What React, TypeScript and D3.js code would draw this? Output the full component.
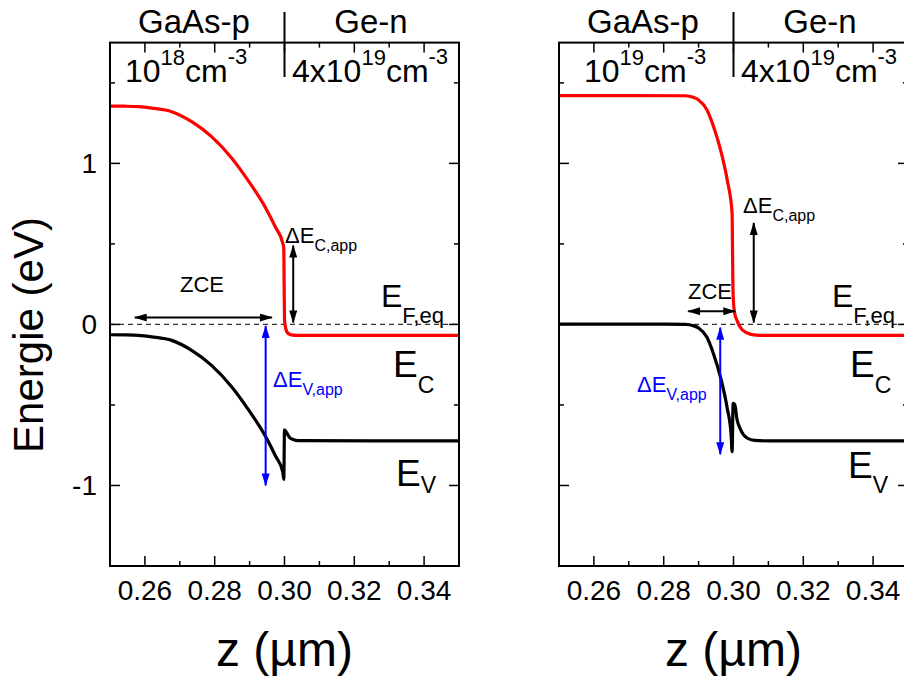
import React from 'react';
import * as d3 from 'd3';

// ---------- data ----------
const xMajorTicks = [0.26, 0.28, 0.3, 0.32, 0.34];
const xMinorTicks = [0.25, 0.27, 0.29, 0.31, 0.33, 0.35];
const yMajorTicks = [-1, 0, 1];
const yMinorTicks = [-1.5, -0.5, 0.5, 1.5];

// left panel: GaAs-p 1e18 / Ge-n 4e19
const leftEc: [number, number][] = [
  [0.25, 1.356], [0.254, 1.355], [0.2581, 1.352], [0.262, 1.343], [0.2677, 1.321],
  [0.2734, 1.259], [0.2791, 1.166], [0.2849, 1.032], [0.2896, 0.893], [0.2944, 0.731],
  [0.2975, 0.6], [0.2995, 0.505], [0.2998, 0.47], [0.2999, 0.25], [0.3, 0.03],
  [0.3004, -0.03], [0.301, -0.055], [0.302, -0.065], [0.3035, -0.068], [0.35, -0.068],
];
const leftEv: [number, number][] = [
  [0.25, -0.064], [0.254, -0.065], [0.2581, -0.068], [0.262, -0.077], [0.2677, -0.099],
  [0.2734, -0.161], [0.2791, -0.254], [0.2849, -0.388], [0.2896, -0.527], [0.2944, -0.689],
  [0.2975, -0.82], [0.2995, -0.915], [0.2998, -0.962], [0.3, -0.655], [0.3006, -0.672],
  [0.3014, -0.7], [0.3025, -0.715], [0.304, -0.722], [0.35, -0.723],
];

// right panel: GaAs-p 1e19 / Ge-n 4e19
const rightEc: [number, number][] = [
  [0.25, 1.421], [0.27, 1.421], [0.2862, 1.42], [0.2885, 1.41], [0.29, 1.394],
  [0.2924, 1.332], [0.2943, 1.228], [0.2963, 1.083], [0.2982, 0.897], [0.2996, 0.69],
  [0.2997, 0.5], [0.2998, 0.3], [0.2999, 0.18], [0.3003, 0.072], [0.301, 0.025],
  [0.3017, -0.01], [0.3036, -0.05], [0.3065, -0.066], [0.31, -0.068], [0.35, -0.068],
];
const rightEv: [number, number][] = [
  [0.25, 0.002], [0.28, 0.002], [0.2862, 0.0], [0.2885, -0.008], [0.29, -0.022],
  [0.2924, -0.08], [0.2943, -0.185], [0.2963, -0.33], [0.2982, -0.52], [0.2993, -0.68],
  [0.2996, -0.79], [0.2999, -0.49], [0.3004, -0.5], [0.301, -0.589], [0.302, -0.651],
  [0.3039, -0.705], [0.306, -0.72], [0.31, -0.723], [0.35, -0.723],
];

const topLabelsP = ['GaAs-p', 'GaAs-p'];
const dopingP = ['18', '19'];
const dopingN = '19';

// annotation arrows: [z1, E1, z2, E2]
const leftZce = [0.2571, 0.043, 0.2964, 0.043];
const leftDEc = [0.3025, 0.49, 0.3025, 0.012];
const leftDEv = [0.2946, -0.01, 0.2946, -1.0];
const rightZce = [0.287, 0.082, 0.3005, 0.082];
const rightDEc = [0.3058, 0.63, 0.3058, 0.012];
const rightDEv = [0.2962, -0.02, 0.2962, -0.806];

// ---------- layout ----------
const W = 904;
const H = 679;
const yTop = 42.6;
const yBot = 566;
const FONT = "'Liberation Sans', Arial, Helvetica, sans-serif";

type PanelProps = {
  x0: number;
  x1: number;
  ec: [number, number][];
  ev: [number, number][];
  idx: number;
  zce: number[];
  dec: number[];
  dev: number[];
  showY: boolean;
  txt: {
    zce: [number, number];
    dec: [number, number];
    ef: [number, number];
    ecl: [number, number, number];
    evl: [number, number, number];
    dev: [number, number];
    dop: number;
  };
};

function Panel(p: PanelProps) {
  const x = d3.scaleLinear().domain([0.25, 0.35]).range([p.x0, p.x1]);
  const y = d3.scaleLinear().domain([-1.5, 1.75]).range([yBot, yTop]);
  const line = d3
    .line<[number, number]>()
    .x((d) => x(d[0]))
    .y((d) => y(d[1]))
    .curve(d3.curveMonotoneX);
  const arrow = (a: number[], col: string, key: string) => (
    <line
      key={key}
      x1={x(a[0])}
      y1={y(a[1])}
      x2={x(a[2])}
      y2={y(a[3])}
      stroke={col}
      strokeWidth={2}
      markerStart={`url(#arr-${col === 'blue' ? 'blue' : 'black'})`}
      markerEnd={`url(#arr-${col === 'blue' ? 'blue' : 'black'})`}
    />
  );
  const x0 = p.x0;
  const t = p.txt;
  return (
    <g>
      {/* top labels */}
      <text x={x0 + 84} y={33} fontSize={33} textAnchor="middle">{topLabelsP[p.idx]}</text>
      <text x={x0 + 261} y={33} fontSize={33} textAnchor="middle">Ge-n</text>
      <line x1={x(0.3)} x2={x(0.3)} y1={12} y2={77} stroke="black" strokeWidth={2} />
      <text x={x0 + t.dop} y={82} fontSize={32}>
        <tspan>10</tspan>
        <tspan dy={-17} fontSize={22}>{dopingP[p.idx]}</tspan>
        <tspan dy={17}>cm</tspan>
        <tspan dy={-18} fontSize={22}>-3</tspan>
      </text>
      <text x={x0 + 182} y={82} fontSize={32}>
        <tspan>4x10</tspan>
        <tspan dy={-17} fontSize={22}>{dopingN}</tspan>
        <tspan dy={17}>cm</tspan>
        <tspan dy={-18} fontSize={22}>-3</tspan>
      </text>

      {/* Fermi level */}
      <line x1={p.x0} x2={p.x1} y1={y(0)} y2={y(0)} stroke="#333" strokeWidth={1.2} strokeDasharray="5,4" />

      {/* bands */}
      <path d={line(p.ec) || ''} fill="none" stroke="#ff0000" strokeWidth={3.2} strokeLinejoin="round" />
      <path d={line(p.ev) || ''} fill="none" stroke="#000" strokeWidth={3.2} strokeLinejoin="round" />

      {/* arrows */}
      {arrow(p.zce, 'black', 'z')}
      {arrow(p.dec, 'black', 'c')}
      {arrow(p.dev, 'blue', 'v')}

      {/* annotations */}
      <text x={x0 + t.zce[0]} y={t.zce[1]} fontSize={22} textAnchor="middle">ZCE</text>
      <text x={x0 + t.dec[0]} y={t.dec[1]} fontSize={22}>
        <tspan>ΔE</tspan>
        <tspan dy={8} fontSize={16}>C,app</tspan>
      </text>
      <text x={x0 + t.ef[0]} y={t.ef[1]} fontSize={32}>
        <tspan>E</tspan>
        <tspan dy={16} fontSize={22}>F,eq</tspan>
      </text>
      <text x={x0 + t.ecl[0]} y={t.ecl[1]} fontSize={37}>
        <tspan>E</tspan>
        <tspan dy={t.ecl[2]} fontSize={23}>C</tspan>
      </text>
      <text x={x0 + t.evl[0]} y={t.evl[1]} fontSize={37}>
        <tspan>E</tspan>
        <tspan dy={t.evl[2]} fontSize={23}>V</tspan>
      </text>
      <text x={x0 + t.dev[0]} y={t.dev[1]} fontSize={22} fill="#0000ff">
        <tspan>ΔE</tspan>
        <tspan dy={8} fontSize={16}>V,app</tspan>
      </text>

      {/* frame */}
      <rect x={p.x0} y={yTop} width={p.x1 - p.x0} height={yBot - yTop} fill="none" stroke="#000" strokeWidth={2} />
      {xMajorTicks.map((v) => (
        <g key={'xM' + v}>
          <line x1={x(v)} x2={x(v)} y1={yBot} y2={yBot - 10} stroke="#000" strokeWidth={1.5} />
          <line x1={x(v)} x2={x(v)} y1={yTop} y2={yTop + 10} stroke="#000" strokeWidth={1.5} />
          <text x={x(v)} y={600} fontSize={28} textAnchor="middle">{d3.format('.2f')(v)}</text>
        </g>
      ))}
      {xMinorTicks.map((v) => (
        <g key={'xm' + v}>
          <line x1={x(v)} x2={x(v)} y1={yBot} y2={yBot - 5} stroke="#000" strokeWidth={1.5} />
          <line x1={x(v)} x2={x(v)} y1={yTop} y2={yTop + 5} stroke="#000" strokeWidth={1.5} />
        </g>
      ))}
      {yMajorTicks.map((v) => (
        <g key={'yM' + v}>
          <line x1={p.x0} x2={p.x0 + 10} y1={y(v)} y2={y(v)} stroke="#000" strokeWidth={1.5} />
          <line x1={p.x1} x2={p.x1 - 10} y1={y(v)} y2={y(v)} stroke="#000" strokeWidth={1.5} />
          {p.showY && (
            <text x={97} y={y(v) + 10} fontSize={28} textAnchor="end">{String(v)}</text>
          )}
        </g>
      ))}
      {yMinorTicks.map((v) => (
        <g key={'ym' + v}>
          <line x1={p.x0} x2={p.x0 + 5} y1={y(v)} y2={y(v)} stroke="#000" strokeWidth={1.5} />
          <line x1={p.x1} x2={p.x1 - 5} y1={y(v)} y2={y(v)} stroke="#000" strokeWidth={1.5} />
        </g>
      ))}
      <text x={(p.x0 + p.x1) / 2} y={666} fontSize={48} textAnchor="middle">z (µm)</text>
    </g>
  );
}

export default function App() {
  return (
    <svg
      width={W}
      height={H}
      style={{ position: 'absolute', left: 0, top: 0, background: '#fff' }}
      fontFamily={FONT}
    >
      <defs>
        <marker id="arr-black" viewBox="0 0 13 8" refX={12} refY={4} markerWidth={13} markerHeight={8}
          markerUnits="userSpaceOnUse" orient="auto-start-reverse">
          <path d="M0,0 L13,4 L0,8 Z" fill="#000" />
        </marker>
        <marker id="arr-blue" viewBox="0 0 13 8" refX={12} refY={4} markerWidth={13} markerHeight={8}
          markerUnits="userSpaceOnUse" orient="auto-start-reverse">
          <path d="M0,0 L13,4 L0,8 Z" fill="#0000ff" />
        </marker>
      </defs>
      <rect x={0} y={0} width={W} height={H} fill="#fff" />
      <text transform="translate(43,335) rotate(-90)" fontSize={42} textAnchor="middle">Energie (eV)</text>
      <Panel
        x0={110} x1={459} ec={leftEc} ev={leftEv} idx={0}
        zce={leftZce} dec={leftDEc} dev={leftDEv} showY={true}
        txt={{ zce: [92, 292], dec: [175, 243], ef: [271, 307], ecl: [283, 377, 16], evl: [286, 486, 7], dev: [163, 387], dop: 15 }}
      />
      <Panel
        x0={559} x1={908} ec={rightEc} ev={rightEv} idx={1}
        zce={rightZce} dec={rightDEc} dev={rightDEv} showY={false}
        txt={{ zce: [151, 299], dec: [184, 213], ef: [273, 307], ecl: [291, 377, 16], evl: [289, 478, 15], dev: [78, 392], dop: 25 }}
      />
    </svg>
  );
}
